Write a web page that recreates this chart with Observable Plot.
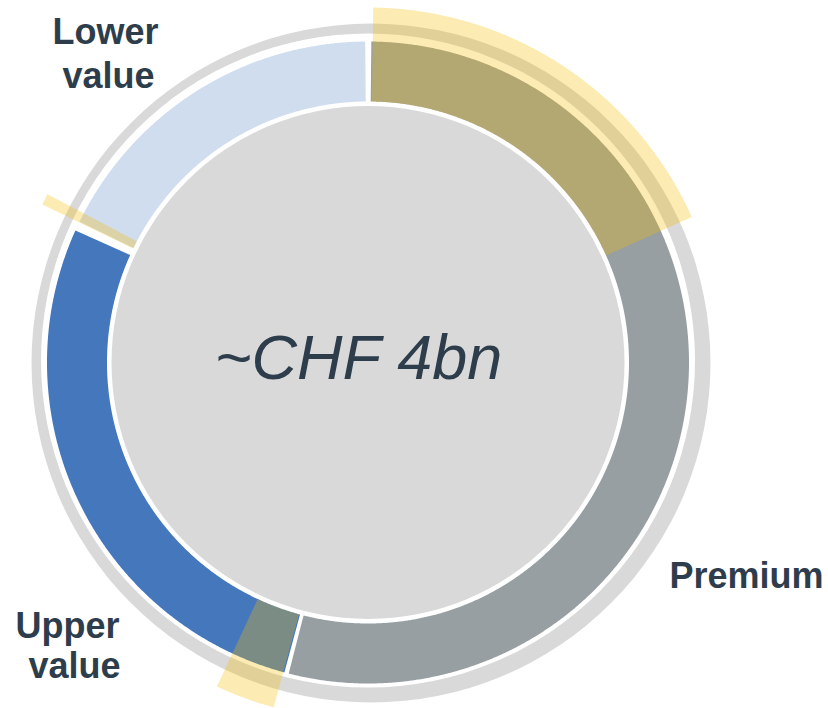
<!DOCTYPE html>
<html><head><meta charset="utf-8">
<script src="https://cdn.jsdelivr.net/npm/d3@7"></script>
<script src="https://cdn.jsdelivr.net/npm/@observablehq/plot@0.6"></script>
<style>html,body{margin:0;padding:0;background:#fff;} #chart{width:828px;height:708px;}</style>
</head><body><div id="chart"></div>
<script>
// ---- data (angles in degrees, clockwise from 12 o'clock) ----
const segments = ["Premium", "Upper value", "Lower value"];
const segStartDeg = [0.6, 195.1, 296.0];
const segEndDeg = [194.3, 294.3, 359.5];
const highlightStartDeg = [0.85, 195.3, 295.9];
const highlightEndDeg = [65.8, 205.0, 297.7];
const centerLabel = "~CHF 4bn";
const labelLines = [["Lower", "value"], ["Premium"], ["Upper", "value"]];
const labelFor = ["Lower value", "Premium", "Upper value"];

// ---- layout & style ----
const W = 828, H = 708;
const C = {x: 367.5, y: 362};
const segIn = 261, segOut = 321, discR = 256.5, hlIn = 261;
const hlOut = [355, 357.5, 362];
const ringOuter = {x: 370.5, y: 362.5, r: 339.5};
const ringInner = {x: 367.5, y: 360, r: 327};
const segColor = {"Premium": "#979fa3", "Upper value": "#4577bd", "Lower value": "#d0ddef"};
const greyFill = "#d9d9d9";
const hlColor = "#f5bd00", hlOpacity = 0.3;
const textColor = "#2e3d4c";
const font = "'Liberation Sans', Arial, Helvetica, sans-serif";
const labelPos = {
  "Lower value": [{x: 105, y: 43.5}, {x: 108, y: 87.5}],
  "Premium": [{x: 746, y: 587.5}],
  "Upper value": [{x: 67, y: 637}, {x: 74, y: 677}]
};

const rad = Math.PI / 180;
function arcPoly(id, a0, a1, r0, r1, cx, cy) {
  const pts = [];
  const n = Math.max(2, Math.ceil((a1 - a0) / 0.25));
  for (let i = 0; i <= n; i++) {
    const a = (a0 + (a1 - a0) * i / n) * rad;
    pts.push({id, x: cx + r1 * Math.sin(a), y: cy - r1 * Math.cos(a)});
  }
  for (let i = n; i >= 0; i--) {
    const a = (a0 + (a1 - a0) * i / n) * rad;
    pts.push({id, x: cx + r0 * Math.sin(a), y: cy - r0 * Math.cos(a)});
  }
  return pts;
}

const segMarks = segments.map((s, i) =>
  Plot.line(arcPoly(s, segStartDeg[i], segEndDeg[i], segIn, segOut, C.x, C.y),
    {x: "x", y: "y", z: "id", fill: segColor[s], stroke: "none", curve: "linear"}));

const hlMarks = highlightStartDeg.map((a0, i) =>
  Plot.line(arcPoly("h" + i, a0, highlightEndDeg[i], hlIn, hlOut[i], C.x, C.y),
    {x: "x", y: "y", z: "id", fill: hlColor, fillOpacity: hlOpacity, stroke: "none", curve: "linear"}));

const labelRows = [];
labelFor.forEach((name, i) => {
  labelLines[i].forEach((t, j) => {
    labelRows.push({text: t, x: labelPos[name][j].x, y: labelPos[name][j].y});
  });
});

const chart = Plot.plot({
  width: W, height: H, margin: 0,
  x: {domain: [0, W], range: [0, W], axis: null},
  y: {domain: [0, H], range: [0, H], axis: null},
  style: {background: "white", overflow: "visible"},
  marks: [
    Plot.dot([ringOuter], {x: "x", y: "y", r: ringOuter.r, fill: greyFill, stroke: "none"}),
    Plot.dot([ringInner], {x: "x", y: "y", r: ringInner.r, fill: "white", stroke: "none"}),
    Plot.dot([C], {x: "x", y: "y", r: discR, fill: greyFill, stroke: "none"}),
    ...segMarks,
    ...hlMarks,
    Plot.text([{t: centerLabel, x: 358, y: 378.5}], {x: "x", y: "y", text: "t", fontSize: 63, fontStyle: "italic",
      fontFamily: font, fill: textColor, textAnchor: "middle", lineAnchor: "bottom"}),
    Plot.text(labelRows, {x: "x", y: "y", text: "text", fontSize: 36, fontWeight: "bold",
      fontFamily: font, fill: textColor, textAnchor: "middle", lineAnchor: "bottom"})
  ]
});
document.getElementById("chart").appendChild(chart);
</script>
</body></html>
